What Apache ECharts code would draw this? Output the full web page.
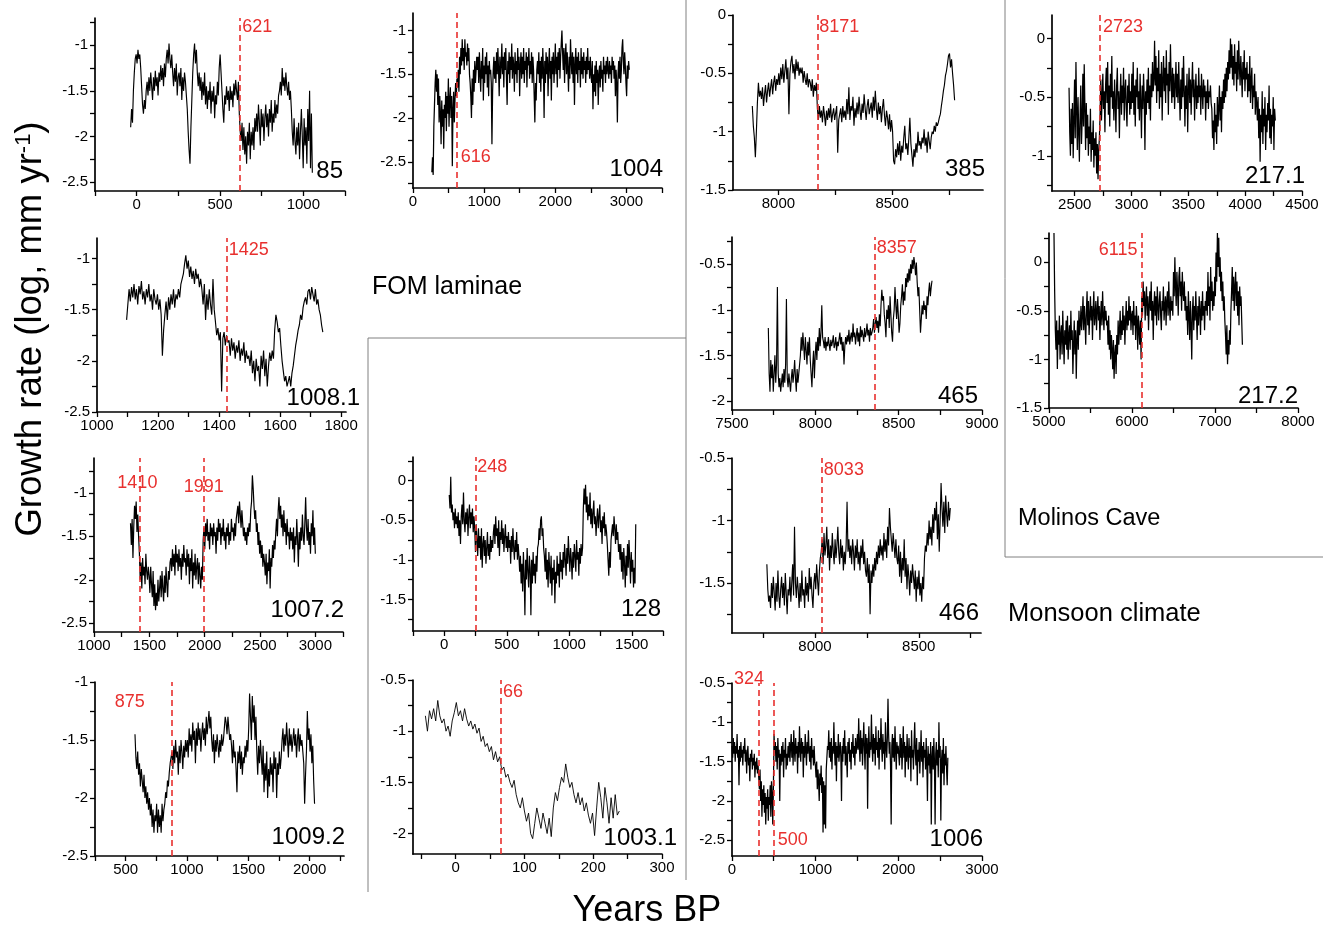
<!DOCTYPE html>
<html><head><meta charset="utf-8">
<script src="https://cdn.jsdelivr.net/npm/echarts@6/dist/echarts.min.js"></script>
<style>html,body{margin:0;padding:0;background:#fff}#c{width:1330px;height:928px}</style>
</head><body><div id="c"></div>
<script>
// ================= DATA =================
// Each record: growth-rate values (log, mm/yr), evenly sampled between span[0] and span[1] (years BP)
const span_85 = [-36, 1054];
const y_85 = [-1.9,-1.7,-1.85,-1.5,-1.3,
-1.15,-1.1,-1.2,-1.05,-1.15,-1.1,-1.25,
-1.45,-1.65,-1.75,-1.6,-1.7,-1.5,
-1.4,-1.55,-1.35,-1.5,-1.3,-1.45,-1.6,-1.35,-1.5,-1.28,-1.45,-1.35,-1.55,-1.3,-1.4,-1.22,-1.38,-1.25,-1.45,-1.2,-1.35,-1.15,
-1.05,-1.2,-0.98,-1.15,-1.25,-1.1,
-1.3,-1.45,-1.25,-1.4,-1.2,-1.55,-1.35,-1.3,-1.45,-1.25,-1.6,-1.35,-1.5,-1.3,-1.4,-1.55,
-1.7,-1.95,-2.15,-2.3,-1.9,-1.6,
-1.3,-1.1,-0.98,-1.2,-1.05,-1.3,-1.45,
-1.3,-1.5,-1.35,-1.6,-1.4,-1.55,-1.3,-1.65,-1.45,-1.7,
-1.5,-1.6,-1.4,-1.75,-1.5,-1.62,-1.45,-1.8,-1.55,-1.65,
-1.4,-1.55,-1.25,-1.1,-1.3,-1.5,-1.7,-1.85,-1.55,-1.65,
-1.45,-1.6,-1.5,-1.72,-1.45,-1.6,-1.5,-1.68,-1.42,-1.55,-1.38,-1.5,
-1.6,-1.4,-1.75,-1.95,
-2.05,-1.85,-2.15,-1.9,-2.2,-2.0,-2.3,-1.95,-2.1,-1.85,-2.25,-1.95,-2.1,-1.9,-2.15,-1.8,-1.95,
-1.75,-1.95,-1.65,-1.85,-2.1,-1.7,-1.9,-1.75,-2.05,-1.8,
-1.65,-1.9,-1.75,-2.0,-1.7,-1.85,-1.6,-1.95,-1.75,-1.85,-1.6,-1.8,-1.65,-1.75,-1.55,
-1.5,-1.4,-1.55,-1.25,-1.45,-1.35,-1.5,-1.3,-1.45,-1.55,-1.4,-1.6,-1.5,
-1.7,-1.95,-2.1,-1.8,-2.05,-2.2,-1.9,-2.1,-1.85,-2.25,
-1.95,-1.7,-2.0,-2.35,-1.8,-2.1,-1.9,-2.3,-1.7,-2.05,-1.5,-2.35,-1.75,-2.4];

const span_1004 = [265, 3040];
const y_1004 = [-2.62,-2.45,-2.65,-2.1,-1.85,-1.6,-1.45,
-1.7,-1.5,-1.85,-1.55,-2.05,-1.75,-1.95,-2.3,-1.8,-2.1,-1.9,-2.35,-1.85,-2.0,-1.7,-2.15,-1.75,-1.95,-1.55,-2.1,-1.8,-1.65,-2.0,-1.75,-2.55,-1.9,-1.7,-2.05,-1.8,-1.6,-1.75,
-1.55,-1.65,-1.45,-1.7,-1.3,-1.5,-1.2,-1.4,-1.1,-1.35,-1.2,-1.45,-1.1,-1.3,-1.25,-1.4,-1.15,-1.35,-1.2,-1.5,
-1.6,-1.75,-2.0,-1.55,-1.85,-1.45,-1.7,-1.35,-1.6,-1.45,-1.3,
-1.45,-1.3,-1.6,-1.25,-1.5,-1.7,-1.35,-1.55,-1.2,-1.8,-1.4,-1.6,-1.3,-1.5,-1.25,-1.65,-1.4,-1.75,-1.35,-1.5,-1.45,
-1.6,-2.3,-1.7,-1.45,-1.3,-1.55,
-1.35,-1.6,-1.25,-1.5,-1.2,-1.45,-1.75,-1.3,-1.55,-1.4,
-1.15,-1.5,-1.3,-1.65,-1.25,-1.45,-1.2,-1.55,-1.85,-1.35,
-1.5,-1.25,-1.6,-1.3,-1.45,-1.15,-1.55,-1.3,-1.4,-1.7,
-1.25,-1.5,-1.35,-1.6,-1.2,-1.45,-1.3,-1.75,-1.4,-1.25,
-1.55,-1.3,-1.5,-1.2,-1.6,-1.35,-1.45,-1.25,-1.65,-1.3,
-1.4,-1.2,-1.55,-1.35,-1.5,-1.25,-1.6,-1.3,-1.45,
-1.75,-2.05,-1.6,-1.8,-1.45,-1.35,
-1.5,-1.25,-1.6,-1.35,-1.7,-1.3,-1.55,-1.2,-1.45,-2.0,
-1.35,-1.6,-1.25,-1.5,-1.3,-1.75,-1.4,-1.2,-1.55,-1.35,
-1.8,-1.3,-1.5,-1.25,-1.6,-1.4,-1.15,-1.5,-1.3,-1.65,
-1.25,-1.45,-1.2,-1.55,-1.3,-1.15,-1.0,-1.25,
-1.45,-1.2,-1.6,-1.3,-1.15,-1.5,-1.25,-1.45,-1.7,-1.3,
-1.55,-1.1,-1.35,-1.5,-1.25,-1.6,-1.3,-1.85,-1.4,-1.2,
-1.5,-1.3,-1.6,-1.25,-1.45,-1.35,-1.65,-1.2,-1.5,-1.3,
-1.55,-1.25,-1.45,-1.35,-1.6,-1.3,-1.5,-1.2,-1.45,-1.35,
-1.55,-1.3,-1.5,
-1.6,-1.35,-1.9,-1.5,-1.7,-1.4,-1.75,-1.35,-1.6,-1.45,
-1.85,-1.5,-1.4,-1.65,-1.35,-1.55,-1.45,-1.7,-1.3,-1.5,-1.4,-1.6,
-1.35,-1.5,-1.3,-1.45,-1.55,-1.35,-1.5,-1.4,-1.6,-1.3,
-1.45,-1.35,-1.55,-1.4,-1.75,-1.45,-1.6,-2.05,-1.5,-1.35,
-1.55,-1.3,-1.6,-1.45,-1.2,-1.1,-1.35,-1.5,-1.25,-1.4,
-1.6,-1.75,-1.4,-1.55,-1.35,-1.45];

const span_385 = [7885, 8775];
const y_385 = [-0.78,-0.95,-1.05,-1.22,-1.0,-0.75,-0.58,-0.7,-0.65,
-0.72,-0.62,-0.78,-0.68,-0.6,-0.75,-0.65,-0.58,-0.7,-0.62,-0.55,-0.68,-0.58,-0.52,-0.65,-0.55,-0.6,
-0.5,-0.6,-0.45,-0.55,-0.42,-0.58,-0.48,-0.38,-0.55,-0.45,-0.85,-0.5,-0.4,-0.35,-0.5,-0.42,-0.55,-0.38,-0.48,-0.4,-0.52,-0.45,
-0.5,-0.45,-0.58,-0.48,-0.55,-0.6,-0.5,-0.62,-0.55,-0.58,-0.65,-0.55,-0.7,-0.6,-0.65,-0.58,
-0.8,-0.9,-0.78,-0.88,-0.82,-0.92,-0.78,-0.86,-0.95,-0.82,-0.9,-0.8,-0.88,-0.76,-0.92,-0.85,-0.8,-0.9,-0.84,-0.78,-1.18,-0.9,-0.85,-0.8,-0.92,-0.78,-0.88,-0.82,-0.9,
-0.72,-0.85,-0.62,-0.9,-0.78,-0.82,-0.7,-0.95,-0.8,-0.88,
-0.75,-0.85,-0.7,-0.82,-0.9,-0.76,-0.84,-0.68,-0.8,-0.9,
-0.78,-0.72,-0.85,-0.8,-0.75,-0.88,-0.7,-0.82,-0.65,-0.8,
-0.9,-0.75,-0.85,-0.78,-0.92,-0.8,-0.72,-0.86,-0.95,-0.82,
-0.88,-0.98,-0.85,-1.0,-0.9,
-1.0,-1.25,-1.28,-1.15,-1.22,-1.1,-1.2,-1.08,-1.25,-1.12,
-1.18,-1.05,-0.95,-1.15,-1.1,-1.2,-1.05,-0.88,-1.1,-1.2,
-1.3,-1.15,-1.22,-1.1,-1.18,-1.0,-1.12,-1.08,-1.15,-1.05,
-1.1,-0.98,-1.12,-1.05,-1.18,-1.0,-1.08,-1.15,-1.05,-1.0,
-1.02,-0.95,-1.0,-0.92,-0.95,
-0.92,-0.88,-0.85,-0.78,-0.72,-0.65,-0.6,-0.52,-0.48,-0.42,-0.35,-0.33,-0.45,-0.38,-0.5,-0.6,-0.73];

const span_217_1 = [2450, 4265];
const y_217_1 = [-0.42,-0.8,-1.0,-0.6,-0.9,-0.55,-1.02,-0.7,-0.35,-0.85,
-0.2,-0.6,-0.95,-0.5,-0.8,-1.05,-0.65,-0.4,-0.9,-0.7,
-0.3,-0.75,-0.22,-0.6,-0.95,-0.55,-0.85,-0.65,-1.0,-0.75,
-0.9,-0.6,-1.05,-0.8,-0.95,-0.7,-1.1,-0.85,-1.0,-0.8,
-1.15,-0.9,-1.2,-0.95,-0.85,
-0.65,-0.35,-0.7,-0.5,-0.3,-0.6,-0.45,-0.8,-0.4,-0.25,
-0.55,-0.2,-0.65,-0.4,-0.75,-0.3,-0.5,-0.15,-0.6,-0.45,
-0.7,-0.35,-0.55,-0.8,-0.4,-0.25,-0.6,-0.45,-0.85,-0.5,
-0.3,-0.65,-0.4,-0.55,-0.25,-0.7,-0.45,-0.35,-0.6,-0.75,
-0.4,-0.55,-0.3,-0.65,-0.45,-0.6,
-0.3,-0.55,-0.2,-0.65,-0.4,-0.75,-0.35,-0.5,-0.25,-0.6,
-0.45,-0.7,-0.3,-0.55,-0.85,-0.4,-0.6,-0.3,-0.5,-0.95,
-0.45,-0.65,-0.35,-0.55,-0.25,-0.6,-0.4,-0.7,-0.3,-0.5,
-0.2,-0.45,-0.35,
-0.02,-0.4,-0.15,-0.55,-0.25,-0.45,-0.1,-0.6,-0.3,-0.5,
-0.2,-0.7,-0.35,-0.15,-0.45,-0.25,-0.55,-0.1,-0.4,-0.3,
-0.65,-0.2,-0.45,-0.05,-0.35,-0.55,-0.25,-0.5,-0.3,-0.6,
-0.4,-0.2,-0.5,
-0.3,-0.55,-0.2,-0.45,-0.7,-0.35,-0.6,-0.25,-0.5,-0.15,
-0.45,-0.75,-0.4,-0.6,-0.3,-0.8,-0.45,-0.25,-0.55,-0.35,
-0.65,-0.4,-0.2,-0.5,-0.35,-0.7,-0.45,-0.3,-0.6,-0.4,
-0.55,-0.25,-0.5,-0.4,-0.65,-0.3,-0.45,-0.6,-0.35,-0.5,
-0.4,-0.7,-0.45,-0.55,-0.35,-0.6,-0.45,-0.5,-0.4,-0.55,
-0.6,-0.85,-0.7,-0.95,-0.55,-0.8,-0.65,-0.9,-0.5,-0.75,
-0.6,-0.4,-0.7,-0.5,-0.8,-0.45,-0.6,-0.35,-0.55,-0.3,
-0.5,-0.25,-0.45,-0.2,-0.35,
-0.1,-0.3,0.0,-0.25,-0.05,-0.35,-0.15,-0.4,-0.05,-0.3,
-0.2,-0.45,-0.1,-0.35,-0.02,-0.25,-0.4,-0.15,-0.3,-0.5,
-0.2,-0.35,-0.1,-0.45,-0.25,
-0.35,-0.2,-0.5,-0.3,-0.45,-0.15,-0.55,-0.35,-0.25,-0.6,
-0.4,-0.5,-0.3,-0.65,-0.45,-0.55,
-0.7,-0.5,-0.85,-0.6,-1.05,-0.65,-0.8,-0.45,-0.9,-0.6,
-0.75,-0.5,-0.95,-0.65,-0.8,-0.55,-0.7,-0.4,-0.85,-0.6,
-0.9,-0.65,-0.75,-0.5,-0.95,-0.6,-0.7];

const span_1008_1 = [1097, 1740];
const y_1008_1 = [-1.6,-1.45,-1.3,-1.42,-1.28,-1.38,-1.25,-1.4,-1.3,-1.45,-1.27,-1.35,-1.22,-1.4,-1.32,-1.45,-1.3,-1.38,-1.25,-1.42,-1.35,-1.5,-1.3,-1.4,-1.45,-1.35,-1.5,-1.4,-1.55,
-1.95,-1.7,-1.55,-1.42,-1.6,-1.38,-1.5,-1.35,-1.45,-1.3,-1.48,-1.35,-1.4,-1.3,-1.38,-1.25,
-1.25,-1.15,-1.05,-0.97,-1.1,-1.02,-1.18,-1.08,-1.2,-1.12,-1.25,-1.1,-1.2,-1.15,-1.28,-1.2,
-1.3,-1.45,-1.25,-1.6,-1.35,-1.5,-1.3,-1.45,-1.55,-1.2,-1.5,
-1.62,-1.75,-1.68,-1.8,-1.72,-2.3,-1.78,-1.72,-1.85,-1.75,-1.82,
-1.8,-1.95,-1.78,-1.9,-1.82,-1.98,-1.85,-1.92,-1.8,-2.0,-1.88,-1.95,-1.82,-2.02,-1.9,-1.98,
-1.95,-2.05,-1.9,-2.12,-2.0,-2.2,-1.98,-2.1,-2.05,-2.25,-1.95,-2.08,-1.9,-2.15,-1.98,-2.25,-2.05,-1.92,-2.0,-1.9,-1.98,
-1.7,-1.55,-1.62,-1.72,-1.68,-1.85,-2.0,-2.1,-2.2,-2.15,-2.25,-2.2,-2.15,-2.25,-2.12,-2.05,
-1.95,-1.85,-1.78,-1.7,-1.65,-1.55,-1.6,-1.48,-1.42,-1.38,-1.45,-1.32,-1.3,-1.4,-1.28,-1.35,-1.42,-1.3,-1.45,-1.4,-1.5,-1.55,-1.65,-1.72];

const span_465 = [7718, 8700];
const y_465 = [-1.2,-1.7,-1.9,-1.55,-1.75,-1.6,-1.9,-1.7,-1.5,-1.8,
-1.6,-0.75,-1.7,-1.85,-1.75,-1.9,-1.8,-1.7,-1.85,-1.65,
-1.8,-1.6,-0.88,-1.75,-1.85,-1.7,-1.8,-1.9,-1.75,-1.65,
-1.8,-1.7,-1.55,-1.75,-1.9,-1.65,-1.8,-1.7,-1.6,
-1.5,-1.3,-1.45,-1.25,-1.4,-1.55,-1.3,-1.45,-1.6,-1.35,
-1.5,-1.3,-1.55,-1.7,-1.85,-1.6,-1.45,-1.75,-1.5,-1.35,
-1.55,-1.3,-1.45,-1.2,-1.4,-1.25,-0.95,-1.3,
-1.35,-1.42,-1.3,-1.45,-1.35,-1.4,-1.3,-1.38,-1.45,-1.33,
-1.4,-1.35,-1.28,-1.42,-1.38,-1.3,-1.45,-1.35,-1.4,-1.32,
-1.25,-1.38,-1.3,-1.45,-1.35,-1.6,-1.4,-1.3,-1.38,-1.28,
-1.35,-1.22,-1.38,-1.3,-1.25,-1.35,-1.15,-1.3,-1.25,-1.38,
-1.28,-1.2,-1.35,-1.25,-1.4,-1.18,-1.3,-1.22,-1.28,-1.35,
-1.2,-1.3,-1.25,-1.15,-1.28,-1.22,-1.35,-1.2,-1.28,-1.25,
-1.2,-1.1,-1.25,-1.15,-1.08,-1.2,-1.12,-1.25,-1.05,-1.18,
-0.95,-0.78,-0.9,-0.85,-1.05,-1.15,-1.3,-1.0,-1.1,-0.95,
-1.2,-0.85,-1.05,-1.25,-1.35,-1.1,-1.0,-0.75,-0.95,-1.1,
-0.88,-1.05,-1.25,-1.15,-0.95,-0.85,-0.72,-0.95,-0.8,-0.9,
-0.65,-0.75,-0.6,-0.7,-0.55,-0.68,-0.5,-0.6,-0.45,-0.55,
-0.42,-0.5,-0.62,-0.48,-0.7,-0.85,-0.75,-1.0,-1.25,-1.1,
-0.95,-1.05,-0.9,-1.0,-0.95,-1.1,-0.85,-0.95,-0.8,-0.7,-0.85,-0.75,-0.68];

const span_217_2 = [5060, 7330];
const y_217_2 = [0.3,-0.3,-0.7,
-0.9,-0.6,-1.1,-0.7,-0.85,-0.55,-1.0,-0.75,-0.65,-0.95,
-0.5,-0.8,-1.05,-0.7,-0.85,-0.6,-0.9,-0.55,-1.0,-0.75,
-0.65,-0.9,-0.5,-0.8,-0.7,-1.15,-0.85,-0.6,-0.95,-0.7,
-1.2,-0.8,-0.6,-0.9,-0.5,-0.75,-0.65,-0.45,-0.7,
-0.55,-0.35,-0.7,-0.45,-0.6,-0.85,-0.5,-0.3,-0.65,-0.4,
-0.75,-0.55,-0.35,-0.6,-0.45,-0.8,-0.5,-0.3,-0.65,-0.55,
-0.4,-0.7,-0.5,-0.35,-0.6,-0.45,-0.8,-0.55,-0.4,-0.65,
-0.3,-0.55,-0.7,-0.45,-0.6,-0.5,-0.65,
-0.6,-0.85,-0.55,-0.9,-0.7,-1.0,-0.75,-0.9,-1.1,-0.8,
-1.2,-0.95,-0.85,-1.15,-0.75,-0.95,-0.6,-0.85,-0.7,-0.5,
-0.8,-0.6,-0.75,-0.45,-0.7,-0.55,-0.85,-0.6,-0.4,-0.7,
-0.5,-0.65,-0.35,-0.6,-0.45,-0.7,-0.55,
-0.5,-0.75,-0.4,-0.65,-0.55,-0.8,-0.45,-0.6,-0.9,-0.55,-0.7,-0.85,-0.6,-1.0,
-0.35,-0.55,-0.2,-0.45,-0.3,-0.6,-0.4,-0.25,-0.55,-0.35,
-0.7,-0.45,-0.3,-0.5,-0.2,-0.6,-0.4,-0.8,-0.45,-0.3,
-0.55,-0.35,-0.65,-0.25,-0.45,-0.6,-0.4,-0.3,-0.55,-0.7,
-0.4,-0.5,-0.25,-0.6,-0.45,-0.35,-0.65,-0.4,-0.3,-0.55,
-0.2,-0.45,-0.6,-0.35,-0.5,-0.4,-0.55,
-0.1,-0.35,0.05,-0.25,-0.45,-0.1,-0.3,-0.55,-0.15,-0.05,
-0.35,-0.2,-0.5,-0.1,-0.3,-0.4,-0.2,-0.5,
-0.35,-0.6,-0.45,-0.75,-0.3,-0.55,-0.8,-0.4,-0.65,-1.0,
-0.5,-0.35,-0.7,-0.45,-0.6,-0.3,-0.55,-0.8,-0.45,-0.65,
-0.35,-0.5,-0.75,-0.4,-0.6,-0.3,-0.55,-0.45,-0.7,-0.4,-0.5,
-0.3,-0.55,-0.1,-0.45,-0.25,-0.6,-0.05,-0.4,-0.2,-0.5,-0.3,-0.45,
-0.15,-0.35,0.1,-0.2,0.3,-0.05,0.25,-0.15,0.05,-0.3,-0.1,-0.4,-0.2,-0.5,-0.35,-0.6,
-0.75,-0.95,-0.65,-1.05,-0.8,-0.95,-0.7,-0.85,-0.5,
-0.3,-0.05,-0.4,-0.15,-0.5,-0.25,-0.1,-0.45,-0.2,-0.55,-0.3,-0.65,-0.25,-0.45,-0.35,-0.6,-0.85];

const span_1007_2 = [1330, 3000];
const y_1007_2 = [-1.35,-1.6,-1.3,-1.75,-1.4,-1.15,-1.3,-1.1,-1.45,-1.25,-1.5,
-1.7,-2.0,-1.8,-2.1,-1.75,-1.95,-1.85,-2.05,-1.7,-1.9,-2.0,-1.85,
-1.95,-2.15,-1.85,-2.05,-2.2,-1.9,-2.3,-2.05,-2.35,-2.15,
-2.3,-2.0,-2.25,-2.1,-1.95,-2.2,-1.9,-2.1,-2.25,-1.95,
-2.15,-1.85,-2.05,-2.2,-1.9,-2.0,-1.8,
-1.75,-1.9,-1.65,-1.85,-1.7,-1.95,-1.6,-1.8,-1.7,-1.9,
-1.65,-1.85,-1.75,-2.0,-1.7,-1.85,-1.6,-1.8,-1.75,-1.95,
-1.65,-1.85,-1.7,-2.05,-1.75,-1.9,-1.65,-2.1,-1.8,-1.95,
-1.7,-2.0,-1.85,-1.75,-2.05,-1.8,-1.95,-2.1,-1.85,-2.0,
-1.55,-1.4,-1.65,-1.35,-1.5,-1.3,-1.55,-1.45,-1.65,-1.35,
-1.5,-1.4,-1.6,-1.35,-1.5,-1.45,-1.7,-1.4,-1.55,-1.3,
-1.45,-1.35,-1.6,-1.4,-1.5,-1.3,-1.55,-1.45,-1.65,-1.4,
-1.5,-1.35,-1.6,-1.45,-1.55,-1.3,-1.45,-1.4,-1.55,-1.35,-1.5,-1.3,
-1.3,-1.15,-1.35,-1.1,-1.25,-1.4,-1.2,-1.35,-1.5,-1.4,-1.55,-1.45,-1.6,-1.4,
-1.5,-1.35,-1.45,-1.2,-1.1,-0.8,-0.95,-1.15,-1.3,-1.2,-1.45,-1.35,-1.6,-1.45,-1.7,-1.55,-1.75,-1.6,-1.85,-1.7,
-1.8,-1.95,-1.7,-2.05,-1.8,-1.9,-1.65,-2.1,-1.75,-1.85,-1.6,-1.75,-1.55,-1.65,
-1.45,-1.3,-1.5,-1.2,-1.05,-1.3,-1.15,-1.4,-1.25,-1.5,-1.2,-1.45,-1.35,-1.6,-1.3,-1.5,-1.45,-1.65,-1.4,-1.55,-1.45,
-1.65,-1.4,-1.8,-1.5,-1.6,-1.3,-1.55,-1.85,-1.45,-1.65,
-1.4,-1.55,-1.25,-1.5,-1.6,-1.35,-1.05,-1.4,-1.55,-1.3,
-1.6,-1.45,-1.7,-1.35,-1.5,-1.2,-1.6,-1.4,-1.7];

const span_128 = [40, 1532];
const y_128 = [-0.18,-0.35,0.05,-0.4,-0.3,-0.5,-0.4,-0.6,-0.35,-0.55,
-0.45,-0.6,-0.4,-0.7,-0.5,-0.8,-0.45,-0.3,-0.55,-0.15,
-0.5,-0.65,-0.4,-0.55,-0.35,-0.7,-0.45,-0.3,-0.6,-0.4,
-0.55,-0.35,-0.65,-0.45,-0.6,
-0.9,-0.55,-0.75,-0.95,-0.6,-0.85,-0.7,-1.0,-0.6,-1.1,
-0.8,-0.7,-0.95,-0.75,-1.05,-0.85,-0.65,-0.95,-0.8,-1.0,
-0.7,-0.9,-0.75,-0.85,-0.65,
-0.55,-0.8,-0.45,-0.7,-0.6,-0.85,-0.5,-0.95,-0.65,-0.75,-0.5,-0.8,-0.6,-0.9,-0.7,-0.55,-0.85,
-0.7,-0.9,-0.65,-0.85,-0.75,-1.05,-0.7,-0.9,-0.6,-0.85,-1.0,-0.75,-0.9,-0.65,-1.0,-0.8,-0.95,
-1.15,-0.95,-1.3,-1.05,-1.4,-0.9,-1.2,-1.7,-1.0,-1.25,
-0.85,-1.15,-1.35,-0.95,-1.1,-1.7,-1.0,-1.3,-0.9,-1.2,
-1.05,-1.3,-0.95,-1.15,-0.85,
-0.8,-0.6,-0.75,-0.5,-0.45,-0.7,-0.6,-0.85,
-0.95,-1.15,-0.85,-1.25,-1.0,-1.35,-0.9,-1.1,-1.3,-0.95,
-1.45,-1.1,-1.25,-1.0,-1.55,-1.15,-1.3,-0.95,-1.2,-1.05,
-1.35,-0.9,-1.15,-1.0,-1.25,
-0.9,-1.1,-0.8,-1.0,-1.2,-0.85,-1.05,-0.7,-0.95,-1.15,
-0.85,-1.0,-1.25,-0.9,-1.1,-0.8,-0.95,-1.15,-0.75,-1.0,
-0.9,-1.2,-0.85,-1.05,-0.8,-0.95,-0.85,
-0.35,-0.1,-0.3,-0.05,-0.4,-0.2,-0.5,-0.3,-0.45,-0.15,
-0.55,-0.35,-0.6,-0.4,-0.25,-0.55,-0.45,-0.7,-0.5,-0.35,
-0.6,-0.45,-0.3,-0.65,-0.5,-0.8,-0.45,-0.6,-0.4,-0.7,-0.55,-0.65,
-0.8,-1.0,-1.2,-0.9,-1.1,-0.75,-0.65,-0.55,-0.7,-0.45,-0.6,-0.8,-0.55,-0.75,-0.65,-0.9,-0.8,
-1.0,-0.8,-1.15,-0.9,-1.25,-0.85,-1.05,-1.35,-0.95,-1.2,
-0.8,-1.1,-0.75,-1.0,-1.3,-0.9,-1.15,-1.0,-1.35,-1.1,-1.3,-0.55];

const span_466 = [7768, 8652];
const y_466 = [-1.35,-1.55,-1.65,-1.6,-1.7,-1.5,-1.62,-1.45,-1.58,-1.72,
-1.5,-1.65,-1.4,-1.6,-1.7,-1.55,-1.45,-1.62,-1.5,-1.68,
-1.42,-1.58,-1.75,-1.55,-1.6,-1.45,-1.65,-1.5,-1.35,-1.6,
-1.05,-1.5,-1.62,-1.45,-1.55,-1.7,-1.5,-1.65,-1.4,-1.6,
-1.55,-1.7,-1.45,-1.6,-1.5,-1.65,-1.38,-1.55,-1.45,-1.6,
-1.7,-1.5,-1.42,-1.55,-1.35,-1.48,-1.6,-1.4,-1.3,
-1.25,-1.15,-1.35,-1.1,-1.28,-1.2,-1.05,-1.3,-1.15,-1.4,
-1.2,-1.3,-1.1,-1.25,-1.35,-1.15,-1.3,-1.2,-1.05,-1.25,-1.35,-1.15,-1.3,-1.2,-1.4,-1.25,-1.35,
-1.2,-0.85,-1.25,-1.15,-1.3,-1.2,-1.35,-1.15,-1.25,-1.4,-1.2,-1.3,-1.15,-1.35,-1.25,-1.4,-1.2,-1.3,-1.15,-1.35,-1.25,-1.4,
-1.45,-1.3,-1.5,-1.35,-1.75,-1.4,-1.5,-1.35,-1.45,-1.3,-1.4,
-1.25,-1.35,-1.2,-1.3,-1.15,-1.28,-1.2,-1.32,-1.1,-1.25,-1.15,-1.3,-1.05,-1.2,-0.9,-1.05,-1.15,-1.25,-1.1,-1.2,-1.3,-1.15,-1.3,
-1.35,-1.2,-1.45,-1.25,-1.5,-1.3,-1.4,-1.15,-1.45,-1.3,
-1.55,-1.35,-1.45,-1.6,-1.4,-1.5,-1.35,-1.45,-1.55,-1.4,-1.65,-1.45,-1.55,-1.4,-1.6,-1.5,-1.65,-1.45,-1.55,
-1.3,-1.2,-1.25,-1.1,-1.2,-1.0,-1.15,-1.05,-1.2,-0.95,
-1.1,-0.9,-1.0,-0.85,-1.15,-0.95,-1.25,-1.0,-0.7,-0.9,-1.05,-0.85,-1.1,-0.8,-0.95,-1.05,-0.85,-1.0,-0.9];

const span_1009_2 = [576, 2040];
const y_1009_2 = [-1.45,-1.65,-1.75,-1.6,-1.8,-1.7,-1.9,-1.75,-1.85,-1.95,-1.8,-2.0,-1.9,-2.05,-1.95,-2.1,-2.0,
-2.15,-2.05,-2.25,-2.1,-2.3,-2.15,-2.2,-2.05,-2.3,-2.1,-2.25,-2.15,-2.3,-2.05,-2.2,-2.1,
-2.05,-1.95,-2.0,-1.85,-1.9,-1.78,-1.7,-1.65,
-1.6,-1.75,-1.55,-1.7,-1.5,-1.65,-1.6,-1.8,-1.55,-1.7,-1.5,-1.6,-1.75,-1.55,-1.65,-1.5,-1.6,
-1.5,-1.65,-1.4,-1.55,-1.45,-1.6,-1.35,-1.5,-1.42,-1.7,
-1.4,-1.55,-1.35,-1.5,-1.4,-1.6,-1.45,-1.35,-1.5,-1.4,-1.55,-1.3,-1.45,-1.35,-1.25,-1.4,-1.3,
-1.5,-1.6,-1.45,-1.7,-1.5,-1.6,-1.45,-1.55,-1.65,-1.5,-1.6,-1.45,-1.55,-1.5,
-1.4,-1.3,-1.35,-1.45,-1.3,-1.4,-1.5,-1.45,
-1.55,-1.7,-1.5,-1.65,-1.6,-1.75,-1.95,-1.6,-1.7,-1.55,-1.75,-1.6,-1.8,-1.65,-1.7,-1.55,-1.65,-1.5,-1.6,
-1.4,-1.1,-1.3,-1.5,-1.12,-1.35,-1.2,-1.5,-1.3,-1.6,-1.8,-1.55,-1.7,-1.5,
-1.65,-1.8,-1.55,-1.95,-1.7,-1.85,-1.6,-2.0,-1.75,-1.9,-1.65,-1.8,-1.7,-1.95,-1.6,-1.75,-1.65,-2.0,-1.7,-1.8,-1.6,-1.75,-1.65,
-1.5,-1.4,-1.6,-1.45,-1.55,-1.35,-1.5,-1.65,-1.4,-1.55,
-1.45,-1.6,-1.5,-1.4,-1.55,-1.45,-1.65,-1.5,-1.4,-1.6,-1.45,-1.55,-1.5,-1.6,-1.7,
-2.05,-1.8,-1.6,-1.25,-1.5,-1.4,-1.6,-1.45,-1.7,-1.55,-1.85,-2.05];

const span_1003_1 = [-44, 238];
const y_1003_1 = [-0.85,-1.0,-0.8,-0.88,-0.78,-0.9,-0.7,-0.85,-0.92,-0.88,
-1.0,-0.95,-1.05,-0.9,-0.82,-0.72,-0.85,-0.8,-0.9,-0.78,
-0.88,-0.95,-0.9,-0.98,-0.93,-1.02,-0.97,-1.1,-1.05,-1.15,
-1.12,-1.2,-1.15,-1.28,-1.2,-1.3,-1.25,-1.38,-1.35,-1.45,
-1.42,-1.5,-1.55,-1.48,-1.62,-1.7,-1.75,-1.65,-1.78,-1.88,
-1.8,-2.0,-2.05,-1.9,-1.75,-1.85,-1.95,-1.8,-1.9,-2.0,
-1.85,-2.03,-1.75,-1.6,-1.68,-1.55,-1.45,-1.5,-1.32,-1.45,
-1.55,-1.5,-1.62,-1.7,-1.6,-1.72,-1.65,-1.78,-1.7,-1.82,
-1.9,-1.8,-2.02,-1.75,-1.5,-1.65,-1.85,-1.55,-1.7,-1.9,
-1.65,-1.85,-1.62,-1.82,-1.78];

const span_1006 = [0, 2590];
const y_1006 = [-1.3,-1.45,-1.2,-1.4,-1.25,-1.5,-1.3,-1.4,-1.15,-1.45,
-1.35,-1.8,-1.3,-1.5,-1.25,-1.45,-1.35,-1.55,-1.3,-1.4,
-1.2,-1.5,-1.35,-1.65,-1.4,-1.3,-1.55,-1.45,-1.75,-1.4,
-1.5,-1.35,-1.6,-1.45,-1.55,-1.4,-1.7,-1.5,-1.6,-1.45,-1.65,-1.55,
-1.7,-1.85,-1.6,-2.0,-1.75,-2.2,-1.85,-2.05,-1.8,-2.15,
-1.9,-2.3,-1.95,-2.1,-1.85,-2.25,-1.95,-2.05,-1.8,-2.2,
-1.75,-1.9,-2.3,-1.85,
-1.15,-1.35,-1.25,-1.5,-1.3,-1.6,-1.2,-1.45,-1.35,-2.0,
-1.4,-1.55,-1.3,-1.5,-1.25,-1.7,-1.35,-1.45,-1.2,-1.6,
-1.4,-1.55,-1.3,-1.45,-1.25,-1.5,
-1.3,-1.15,-1.45,-1.25,-1.55,-1.1,-1.35,-1.5,-1.2,-1.4,
-1.3,-1.65,-1.25,-1.45,-1.05,-1.35,-1.5,-1.2,-1.4,-1.25,
-1.7,-1.3,-1.45,-1.15,-1.35,-1.55,-1.25,-1.4,-1.1,-1.35,
-1.5,-1.3,-1.6,-1.2,-1.45,-1.35,-1.55,-1.3,-1.5,
-1.55,-1.7,-1.5,-1.85,-1.6,-1.75,-2.0,-1.65,-1.8,-1.55,
-1.9,-1.7,-2.4,-1.75,-2.3,-1.8,-2.35,-1.6,-1.45,-1.3,
-1.35,-1.1,-1.45,-1.25,-1.5,-1.2,-1.6,-1.3,-1.4,-1.0,
-1.35,-1.55,-1.25,-1.75,-1.3,-1.45,-1.15,-1.5,-1.35,-1.25,
-1.45,-2.0,-1.3,-1.5,-1.2,-1.4,-1.1,-1.55,-1.3,-1.45,
-1.7,-1.25,-1.4,-1.2,-1.5,-1.35,-1.6,-1.25,-1.4,-1.15,
-1.45,-1.3,-1.55,-1.2,-1.4,-1.3,
-1.15,-1.35,-0.95,-1.3,-1.5,-1.1,-1.4,-1.2,-1.55,-1.25,
-1.0,-1.35,-1.6,-1.15,-1.4,-1.2,-2.1,-1.3,-1.05,-1.45,
-1.25,-1.35,-0.9,-1.3,-1.5,-1.15,-1.4,-1.2,-1.55,-1.05,
-1.35,-1.25,-1.45,-1.1,-1.6,-1.2,-1.35,-0.95,-1.3,-1.5,
-1.15,-1.4,-1.25,-1.6,-1.0,-1.3,-1.45,-1.2,-0.7,-1.15,
-1.4,-1.25,-1.55,-2.3,-1.3,-1.15,-1.45,-1.2,-1.5,-1.05,
-1.35,-1.6,-1.25,-1.4,-1.3,
-1.3,-1.55,-1.15,-1.45,-1.2,-1.6,-1.35,-1.05,-1.45,-1.25,
-1.7,-1.3,-1.5,-1.15,-1.4,-1.6,-1.2,-1.45,-1.3,-1.75,
-1.1,-1.45,-1.35,-1.6,-1.25,-1.0,-1.4,-1.55,-1.2,-1.8,
-1.35,-1.5,-1.25,-1.65,-1.4,-1.1,-1.5,-1.3,-1.7,-1.25,
-1.45,-1.35,-1.6,-1.2,-1.5,-2.0,-1.3,-1.55,-1.4,-1.65,
-1.25,-2.3,-1.45,-1.3,-1.6,-1.2,-1.5,-2.3,-1.4,-1.25,
-1.55,-1.35,-1.7,-1.0,-1.45,-1.3,-2.25,-1.5,-1.35,-1.65,
-1.2,-1.8,-1.4,-1.55,-1.3,-1.6,-1.8,-1.45];

// transition markers (years BP) per record
const marks_85 = [621], marks_1004 = [616], marks_385 = [8171], marks_217_1 = [2723],
      marks_1008_1 = [1425], marks_465 = [8357], marks_217_2 = [6115], marks_1007_2 = [1410, 1991],
      marks_128 = [248], marks_466 = [8033], marks_1009_2 = [875], marks_1003_1 = [66], marks_1006 = [324, 500];

// tick labels
const xl_85 = [0,500,1000], yl_85 = [-1,-1.5,-2,-2.5];
const xl_1004 = [0,1000,2000,3000], yl_1004 = [-1,-1.5,-2,-2.5];
const xl_385 = [8000,8500], yl_385 = [0,-0.5,-1,-1.5];
const xl_217_1 = [2500,3000,3500,4000,4500], yl_217_1 = [0,-0.5,-1];
const xl_1008_1 = [1000,1200,1400,1600,1800], yl_1008_1 = [-1,-1.5,-2,-2.5];
const xl_465 = [7500,8000,8500,9000], yl_465 = [-0.5,-1,-1.5,-2];
const xl_217_2 = [5000,6000,7000,8000], yl_217_2 = [0,-0.5,-1,-1.5];
const xl_1007_2 = [1000,1500,2000,2500,3000], yl_1007_2 = [-1,-1.5,-2,-2.5];
const xl_128 = [0,500,1000,1500], yl_128 = [0,-0.5,-1,-1.5];
const xl_466 = [8000,8500], yl_466 = [-0.5,-1,-1.5];
const xl_1009_2 = [500,1000,1500,2000], yl_1009_2 = [-1,-1.5,-2,-2.5];
const xl_1003_1 = [0,100,200,300], yl_1003_1 = [-0.5,-1,-1.5,-2];
const xl_1006 = [0,1000,2000,3000], yl_1006 = [-0.5,-1,-1.5,-2,-2.5];

// ================= LAYOUT / STYLE =================
const FONT = '"Liberation Sans", Arial, Helvetica, sans-serif';
const RED = '#e8302e';
const panels = [
 {name:'85', y:y_85, span:span_85, marks:marks_85, xl:xl_85, yl:yl_85, xr:[-250,1250], xs:250, yr:[-2.6,-0.7], box:[95,18,250,173], num:[343,171], ml:[[27,'left',2]], lw:1.15},
 {name:'1004', y:y_1004, span:span_1004, marks:marks_1004, xl:xl_1004, yl:yl_1004, xr:[0,3500], xs:500, yr:[-2.8,-0.8], box:[413,13,249,175], num:[663,169], ml:[[157,'left',4]], lw:1.25},
 {name:'385', y:y_385, span:span_385, marks:marks_385, xl:xl_385, yl:yl_385, xr:[7800,8900], xs:250, yr:[-1.5,0], box:[733,15,250,175], num:[985,169], ml:[[27,'left',2]], lw:1.15},
 {name:'217.1', y:y_217_1, span:span_217_1, marks:marks_217_1, xl:xl_217_1, yl:yl_217_1, xr:[2300,4500], xs:250, yr:[-1.3,0.2], box:[1052,15,250,176], num:[1305,176], ml:[[27,'left',3]], lw:1.25},
 {name:'1008.1', y:y_1008_1, span:span_1008_1, marks:marks_1008_1, xl:xl_1008_1, yl:yl_1008_1, xr:[1000,1816], xs:100, yr:[-2.5,-0.8], box:[97,238,249,174], num:[360,398], ml:[[250,'left',2]], lw:1.15},
 {name:'465', y:y_465, span:span_465, marks:marks_465, xl:xl_465, yl:yl_465, xr:[7500,9000], xs:250, yr:[-2.1,-0.2], box:[732,237,250,173], num:[978,396], ml:[[248,'left',2]], lw:1.15},
 {name:'217.2', y:y_217_2, span:span_217_2, marks:marks_217_2, xl:xl_217_2, yl:yl_217_2, xr:[5000,8000], xs:500, yr:[-1.5,0.3], box:[1049,233,249,175], num:[1298,396], ml:[[250,'right',-4]], lw:1.25},
 {name:'1007.2', y:y_1007_2, span:span_1007_2, marks:marks_1007_2, xl:xl_1007_2, yl:yl_1007_2, xr:[1000,3250], xs:250, yr:[-2.6,-0.6], box:[94,458,249,174], num:[344,610], ml:[[483,'center',-2],[487,'center',0]], lw:1.2},
 {name:'128', y:y_128, span:span_128, marks:marks_128, xl:xl_128, yl:yl_128, xr:[-250,1750], xs:250, yr:[-1.9,0.3], box:[413,457,250,174], num:[661,609], ml:[[467,'left',2]], lw:1.2},
 {name:'466', y:y_466, span:span_466, marks:marks_466, xl:xl_466, yl:yl_466, xr:[7600,8800], xs:250, yr:[-1.9,-0.5], box:[732,458,249,175], num:[979,613], ml:[[470,'left',2]], lw:1.15},
 {name:'1009.2', y:y_1009_2, span:span_1009_2, marks:marks_1009_2, xl:xl_1009_2, yl:yl_1009_2, xr:[250,2280], xs:250, yr:[-2.5,-1], box:[95,682,249,174], num:[345,837], ml:[[702,'right',-27]], lw:1.15},
 {name:'1003.1', y:y_1003_1, span:span_1003_1, marks:marks_1003_1, xl:xl_1003_1, yl:yl_1003_1, xr:[-62,300], xs:50, yr:[-2.2,-0.5], box:[413,680,249,174], num:[677,838], ml:[[692,'left',2]], lw:0.9},
 {name:'1006', y:y_1006, span:span_1006, marks:marks_1006, xl:xl_1006, yl:yl_1006, xr:[0,3000], xs:500, yr:[-2.7,-0.5], box:[732,683,250,173], num:[983,839], ml:[[679,'right',5],[840,'left',4]], lw:1.25}
];

function steps(lo, hi, st){ const out=[]; for(let v=Math.ceil(lo/st-1e-9)*st; v<=hi+1e-9; v+=st) out.push(+v.toFixed(6)); return out; }
const fmt = v => String(+(+v).toFixed(4));

const grid=[], xAxis=[], yAxis=[], series=[];
panels.forEach((p,i)=>{
  grid.push({left:p.box[0], top:p.box[1], width:p.box[2], height:p.box[3], containLabel:false, outerBoundsMode:'none'});
  const lab = {color:'#000', fontSize:15, fontFamily:FONT, margin:6, formatter:fmt, showMinLabel:true, showMaxLabel:true};
  const common = {axisLine:{show:true, onZero:false, lineStyle:{color:'#000', width:1.7}}, splitLine:{show:false}};
  xAxis.push(Object.assign({}, common, {type:'value', gridIndex:i, min:p.xr[0], max:p.xr[1],
    axisTick:{show:true, length:5, customValues:steps(p.xr[0],p.xr[1],p.xs), lineStyle:{color:'#000', width:1.3}},
    axisLabel:Object.assign({}, lab, {customValues:p.xl})}));
  yAxis.push(Object.assign({}, common, {type:'value', gridIndex:i, min:p.yr[0], max:p.yr[1],
    axisTick:{show:true, length:5, customValues:steps(p.yr[0],p.yr[1],0.25), lineStyle:{color:'#000', width:1.3}},
    axisLabel:Object.assign({}, lab, {customValues:p.yl, margin:7})}));
  const n=p.y.length, d=[];
  for(let k=0;k<n;k++){ d.push([p.span[0]+(p.span[1]-p.span[0])*k/(n-1), p.y[k]]); }
  series.push({type:'line', name:p.name, xAxisIndex:i, yAxisIndex:i, data:d, showSymbol:false, symbol:'none',
    lineStyle:{color:'#000', width:p.lw}, z:3, silent:true,
    markLine:{silent:true, symbol:['none','none'], label:{show:false}, animation:false,
      lineStyle:{color:RED, type:[6,4], width:1.6}, data:p.marks.map(v=>({xAxis:v}))}});
});

const graphics = [
  {type:'line', shape:{x1:686,y1:0,x2:686,y2:880}, style:{stroke:'#808080', lineWidth:1}},
  {type:'line', shape:{x1:368,y1:338,x2:686,y2:338}, style:{stroke:'#808080', lineWidth:1}},
  {type:'line', shape:{x1:368,y1:338,x2:368,y2:892}, style:{stroke:'#808080', lineWidth:1}},
  {type:'line', shape:{x1:1005,y1:0,x2:1005,y2:557}, style:{stroke:'#808080', lineWidth:1}},
  {type:'line', shape:{x1:1005,y1:557,x2:1323,y2:557}, style:{stroke:'#808080', lineWidth:1}},
  {type:'text', x:372, y:287, style:{text:'FOM laminae', fontSize:25, fontFamily:FONT, fill:'#000', align:'left', verticalAlign:'middle'}},
  {type:'text', x:1018, y:519, style:{text:'Molinos Cave', fontSize:23.5, fontFamily:FONT, fill:'#000', align:'left', verticalAlign:'middle'}},
  {type:'text', x:1008, y:614, style:{text:'Monsoon climate', fontSize:25.5, fontFamily:FONT, fill:'#000', align:'left', verticalAlign:'middle'}},
  {type:'text', x:647, y:911, style:{text:'Years BP', fontSize:36, fontFamily:FONT, fill:'#000', align:'center', verticalAlign:'middle'}},
  {type:'text', x:31, y:329, rotation:Math.PI/2, style:{text:'{a|Growth rate (log, mm yr}{b|-1}{a|)}', align:'center', verticalAlign:'middle',
     rich:{a:{fontSize:36.5, fontFamily:FONT, fill:'#000'}, b:{fontSize:22, fontFamily:FONT, fill:'#000', verticalAlign:'top'}}}}
];
panels.forEach(p=>{
  graphics.push({type:'text', x:p.num[0], y:p.num[1], z:10, style:{text:p.name, fontSize:24, fontFamily:FONT, fill:'#000', align:'right', verticalAlign:'middle'}});
});

const chart = echarts.init(document.getElementById('c'), null, {renderer:'canvas'});
chart.setOption({animation:false, backgroundColor:'#fff', grid, xAxis, yAxis, series, graphic:graphics});

// red marker labels, positioned through the axis scale
const labelGraphics = [];
panels.forEach((p,i)=>{
  p.marks.forEach((v,j)=>{
    const px = chart.convertToPixel({xAxisIndex:i}, v);
    const [ly, al, dx] = p.ml[j];
    labelGraphics.push({type:'text', x:px+dx, y:ly, z:10, style:{text:String(v), fontSize:18, fontFamily:FONT, fill:RED, align:al, verticalAlign:'middle'}});
  });
});
chart.setOption({graphic: graphics.concat(labelGraphics)}, {replaceMerge:['graphic']});
</script></body></html>
